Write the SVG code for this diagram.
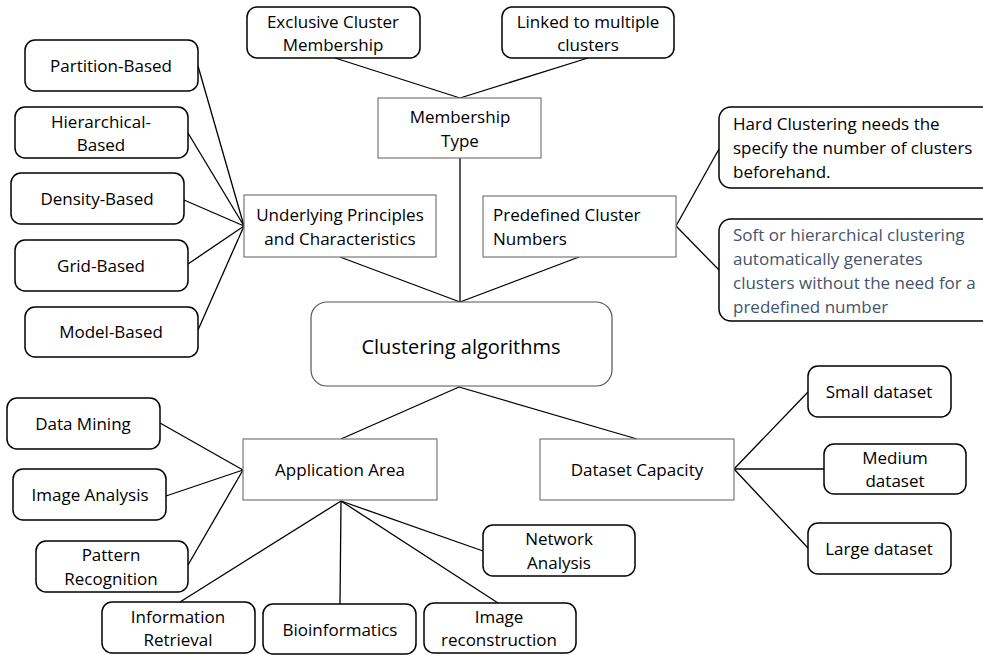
<svg xmlns="http://www.w3.org/2000/svg" width="983" height="655" viewBox="0 0 983 655">
<style>
text{font-family:"Open Sans","Liberation Sans",sans-serif;font-size:17px;fill:#000;text-anchor:middle}
.l{text-anchor:start}
.r{fill:#fff;stroke:#000;stroke-width:1.5}
.s{fill:#fff;stroke:#777;stroke-width:1.2}
.c line{stroke:#000;stroke-width:1.3}
.g{fill:#44546A}
</style>
<rect width="983" height="655" fill="#fff"/>
<g class="c">
<line x1="335" y1="58" x2="460" y2="98"/>
<line x1="588" y1="58" x2="460" y2="98"/>
<line x1="460" y1="158" x2="460" y2="302"/>
<line x1="340" y1="257" x2="460" y2="302"/>
<line x1="579" y1="257" x2="460" y2="302"/>
<line x1="198" y1="66" x2="244" y2="226"/>
<line x1="188" y1="133" x2="244" y2="226"/>
<line x1="184" y1="200" x2="244" y2="226"/>
<line x1="188" y1="264" x2="244" y2="226"/>
<line x1="198" y1="330" x2="244" y2="226"/>
<line x1="676" y1="226" x2="719" y2="149"/>
<line x1="676" y1="226" x2="719" y2="270"/>
<line x1="459" y1="387" x2="341" y2="439"/>
<line x1="459" y1="387" x2="637" y2="439"/>
<line x1="734" y1="469" x2="808" y2="392"/>
<line x1="734" y1="469" x2="824" y2="469"/>
<line x1="734" y1="469" x2="808" y2="548"/>
<line x1="160" y1="423" x2="243" y2="470"/>
<line x1="166" y1="496" x2="243" y2="470"/>
<line x1="188" y1="565" x2="243" y2="470"/>
<line x1="341" y1="501" x2="180" y2="602"/>
<line x1="341" y1="501" x2="340" y2="604"/>
<line x1="341" y1="501" x2="498" y2="603"/>
<line x1="341" y1="501" x2="483" y2="551"/>
</g>
<g id="exclusive"><rect class="r" x="247" y="7" width="173" height="51" rx="10"/><text x="333" y="28">Exclusive Cluster</text><text x="333" y="51">Membership</text></g>
<g id="linked"><rect class="r" x="502" y="7" width="172" height="51" rx="10"/><text x="588" y="28">Linked to multiple</text><text x="588" y="51">clusters</text></g>
<g id="membership"><rect class="s" x="378" y="98" width="163" height="60"/><text x="460" y="123">Membership</text><text x="460" y="147">Type</text></g>
<g id="underlying"><rect class="s" x="244" y="195" width="192" height="62"/><text x="340" y="221">Underlying Principles</text><text x="340" y="245">and Characteristics</text></g>
<g id="predefined"><rect class="s" x="483" y="196" width="193" height="61"/><text class="l" x="493" y="221">Predefined Cluster</text><text class="l" x="493" y="245">Numbers</text></g>
<g id="partition"><rect class="r" x="25" y="40" width="173" height="51" rx="10"/><text x="111" y="72">Partition-Based</text></g>
<g id="hierarchical"><rect class="r" x="15" y="107" width="173" height="51" rx="10"/><text x="101" y="128">Hierarchical-</text><text x="101" y="151">Based</text></g>
<g id="density"><rect class="r" x="11" y="173" width="173" height="51" rx="10"/><text x="97" y="205">Density-Based</text></g>
<g id="grid"><rect class="r" x="15" y="240" width="173" height="51" rx="10"/><text x="101" y="272">Grid-Based</text></g>
<g id="model"><rect class="r" x="25" y="307" width="173" height="50" rx="10"/><text x="111" y="338">Model-Based</text></g>
<g id="hard"><rect class="r" x="719" y="107" width="275" height="81" rx="12"/><text class="l" x="733" y="130">Hard Clustering needs the</text><text class="l" x="733" y="154">specify the number of clusters</text><text class="l" x="733" y="178">beforehand.</text></g>
<g id="soft"><rect class="r" x="719" y="219" width="275" height="102" rx="12"/><text class="l g" x="733" y="241">Soft or hierarchical clustering</text><text class="l g" x="733" y="265">automatically generates</text><text class="l g" x="733" y="289">clusters without the need for a</text><text class="l g" x="733" y="313">predefined number</text></g>
<g id="clustering"><rect x="311" y="302" width="301" height="84" rx="16" fill="#fff" stroke="#555" stroke-width="1.2"/><text x="461" y="354" style="font-size:20px">Clustering algorithms</text></g>
<g id="application"><rect class="s" x="243" y="439" width="194" height="61"/><text x="340" y="476">Application Area</text></g>
<g id="dataset"><rect class="s" x="540" y="439" width="194" height="61"/><text x="637" y="476">Dataset Capacity</text></g>
<g id="small"><rect class="r" x="808" y="366" width="143" height="51" rx="10"/><text x="879" y="398">Small dataset</text></g>
<g id="medium"><rect class="r" x="824" y="444" width="142" height="50" rx="10"/><text x="895" y="464">Medium</text><text x="895" y="487">dataset</text></g>
<g id="large"><rect class="r" x="808" y="523" width="143" height="51" rx="10"/><text x="879" y="555">Large dataset</text></g>
<g id="datamining"><rect class="r" x="7" y="398" width="153" height="51" rx="10"/><text x="83" y="430">Data Mining</text></g>
<g id="imageanalysis"><rect class="r" x="13" y="469" width="153" height="51" rx="10"/><text x="90" y="501">Image Analysis</text></g>
<g id="pattern"><rect class="r" x="36" y="541" width="152" height="51" rx="10"/><text x="111" y="561">Pattern</text><text x="111" y="585">Recognition</text></g>
<g id="network"><rect class="r" x="483" y="525" width="152" height="51" rx="10"/><text x="559" y="545">Network</text><text x="559" y="569">Analysis</text></g>
<g id="inforetrieval"><rect class="r" x="102" y="602" width="153" height="51" rx="10"/><text x="178" y="623">Information</text><text x="178" y="646">Retrieval</text></g>
<g id="bioinformatics"><rect class="r" x="263" y="604" width="153" height="50" rx="10"/><text x="340" y="636">Bioinformatics</text></g>
<g id="imagerecon"><rect class="r" x="424" y="603" width="152" height="50" rx="10"/><text x="499" y="623">Image</text><text x="499" y="646">reconstruction</text></g>
</svg>
